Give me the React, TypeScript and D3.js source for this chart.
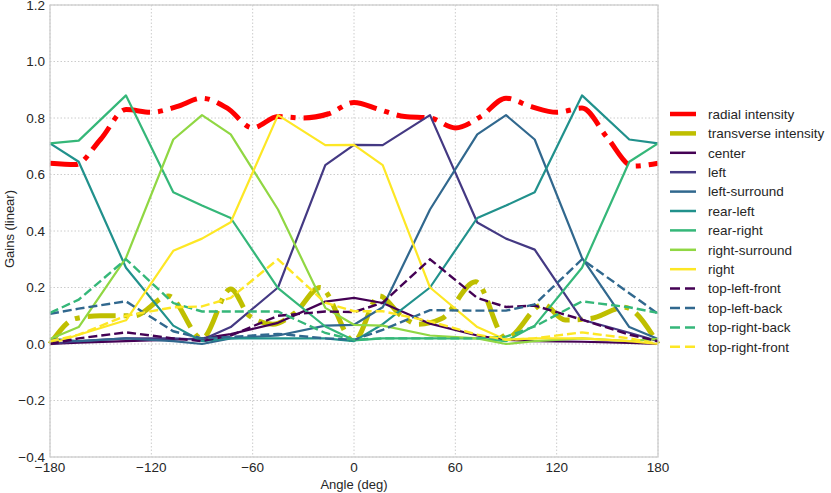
import * as d3 from "d3";

// sampled speaker angles (deg)
const speakerAngles = [-180, -163, -135, -107, -90, -73, -45, -17, 0, 17, 45, 73, 90, 107, 135, 163, 180];

const center = [0.0, 0.005, 0.01, 0.015, 0.02, 0.035, 0.075, 0.15, 0.163, 0.145, 0.072, 0.03, 0.015, 0.01, 0.008, 0.004, 0.0];
const left = [0.0, 0.01, 0.02, 0.02, 0.015, 0.06, 0.2, 0.633, 0.705, 0.704, 0.81, 0.43, 0.373, 0.334, 0.086, 0.04, 0.01];
const leftSurround = [0.018, 0.01, 0.02, 0.01, 0.0, 0.02, 0.03, 0.065, 0.068, 0.13, 0.476, 0.742, 0.81, 0.724, 0.305, 0.06, 0.018];
const rearLeft = [0.71, 0.645, 0.27, 0.065, 0.01, 0.02, 0.02, 0.02, 0.01, 0.07, 0.2, 0.446, 0.49, 0.537, 0.88, 0.724, 0.71];
const rearRight = [0.71, 0.72, 0.88, 0.537, 0.49, 0.446, 0.198, 0.062, 0.013, 0.02, 0.02, 0.02, 0.01, 0.065, 0.27, 0.645, 0.71];
const rightSurround = [0.018, 0.06, 0.305, 0.724, 0.81, 0.742, 0.476, 0.128, 0.068, 0.065, 0.03, 0.02, 0.0, 0.01, 0.02, 0.01, 0.018];
const right = [0.0, 0.033, 0.084, 0.33, 0.373, 0.431, 0.81, 0.704, 0.705, 0.633, 0.2, 0.06, 0.015, 0.02, 0.02, 0.01, 0.0];

const topLeftFront = [0.0, 0.02, 0.041, 0.02, 0.01, 0.03, 0.1, 0.115, 0.113, 0.146, 0.3, 0.163, 0.131, 0.136, 0.086, 0.033, 0.01];
const topLeftBack = [0.107, 0.125, 0.151, 0.045, 0.02, 0.025, 0.036, 0.02, 0.015, 0.05, 0.12, 0.118, 0.118, 0.14, 0.3, 0.18, 0.107];
const topRightBack = [0.11, 0.157, 0.3, 0.145, 0.115, 0.115, 0.115, 0.039, 0.015, 0.02, 0.02, 0.02, 0.026, 0.062, 0.151, 0.13, 0.11];
const topRightFront = [0.01, 0.033, 0.1, 0.13, 0.133, 0.163, 0.3, 0.146, 0.116, 0.116, 0.08, 0.033, 0.015, 0.02, 0.041, 0.02, 0.0];

const radialAngles = [-180, -165, -150, -135, -120, -105, -90, -75, -60, -45, -30, -15, 0, 15, 30, 45, 60, 75, 90, 105, 120, 135, 150, 165, 180];
const radial = [0.64, 0.635, 0.725, 0.83, 0.82, 0.84, 0.87, 0.835, 0.765, 0.805, 0.8, 0.815, 0.855, 0.83, 0.805, 0.8, 0.765, 0.805, 0.87, 0.84, 0.82, 0.835, 0.73, 0.63, 0.64];

const transAngles = [-180, -165, -150, -130, -110, -90, -73, -62, -48, -35, -20, 0, 15, 28, 38, 52, 72, 90, 112, 125, 140, 160, 180];
const transverse = [0.0, 0.09, 0.1, 0.1, 0.17, 0.02, 0.195, 0.1, 0.07, 0.11, 0.2, 0.01, 0.17, 0.1, 0.07, 0.09, 0.22, 0.02, 0.14, 0.085, 0.09, 0.13, 0.0];

const solidNames = ["center", "left", "left-surround", "rear-left", "rear-right", "right-surround", "right"];
const solidSeries = [center, left, leftSurround, rearLeft, rearRight, rightSurround, right];
const dashedNames = ["top-left-front", "top-left-back", "top-right-back", "top-right-front"];
const dashedSeries = [topLeftFront, topLeftBack, topRightBack, topRightFront];

const xTicks = [-180, -120, -60, 0, 60, 120, 180];
const yTicks = [-0.4, -0.2, 0.0, 0.2, 0.4, 0.6, 0.8, 1.0, 1.2];

const W = 831;
const H = 493;
const font = "'Liberation Sans', Arial, sans-serif";

export default function App() {
  const x = d3.scaleLinear().domain([-180, 180]).range([50, 658]);
  const y = d3.scaleLinear().domain([-0.4, 1.2]).range([457, 5]);

  const polyline = d3
    .line<[number, number]>()
    .x((d) => x(d[0]))
    .y((d) => y(d[1]));
  const smooth = d3
    .line<[number, number]>()
    .x((d) => x(d[0]))
    .y((d) => y(d[1]))
    .curve(d3.curveMonotoneX);

  const zip = (a: number[], b: number[]) => a.map((v, i) => [v, b[i]] as [number, number]);

  const solidColor = (i: number) => d3.interpolateViridis(i / (solidNames.length - 1));
  const dashedColor = (i: number) => d3.interpolateViridis(i / (dashedNames.length - 1));
  const fmt = (v: number) => d3.format(".1f")(v).replace("-", "\u2212");

  const legend = [
    { name: "radial intensity", color: "red", width: 4.5, dash: "" },
    { name: "transverse intensity", color: "#bfbf00", width: 4.5, dash: "" },
    ...solidNames.map((n, i) => ({ name: n, color: solidColor(i), width: 2.5, dash: "" })),
    ...dashedNames.map((n, i) => ({ name: n, color: dashedColor(i), width: 2.5, dash: "10,5" })),
  ];

  return (
    <svg
      width={W}
      height={H}
      style={{ position: "absolute", left: 0, top: 0, background: "#fff" }}
      fontFamily={font}
    >
      {/* grid */}
      <g stroke="#cccccc" strokeWidth={1} strokeDasharray="1.5,2">
        {xTicks.map((t) => (
          <line key={"gx" + t} x1={x(t)} x2={x(t)} y1={y(1.2)} y2={y(-0.4)} />
        ))}
        {yTicks.map((t) => (
          <line key={"gy" + t} x1={x(-180)} x2={x(180)} y1={y(t)} y2={y(t)} />
        ))}
      </g>

      {/* lines */}
      <path
        d={smooth(zip(radialAngles, radial)) || ""}
        fill="none"
        stroke="red"
        strokeWidth={5}
        strokeDasharray="28,8,5,8"
      />
      <path
        d={smooth(zip(transAngles, transverse)) || ""}
        fill="none"
        stroke="#bfbf00"
        strokeWidth={5}
        strokeDasharray="28,8,5,8"
      />
      {solidSeries.map((s, i) => (
        <path
          key={solidNames[i]}
          d={polyline(zip(speakerAngles, s)) || ""}
          fill="none"
          stroke={solidColor(i)}
          strokeWidth={2.2}
          strokeLinejoin="round"
        />
      ))}
      {dashedSeries.map((s, i) => (
        <path
          key={dashedNames[i]}
          d={polyline(zip(speakerAngles, s)) || ""}
          fill="none"
          stroke={dashedColor(i)}
          strokeWidth={2.4}
          strokeDasharray="9,4"
        />
      ))}

      {/* frame */}
      <rect
        x={x(-180)}
        y={y(1.2)}
        width={x(180) - x(-180)}
        height={y(-0.4) - y(1.2)}
        fill="none"
        stroke="#cccccc"
        strokeWidth={1.25}
      />

      {/* ticks */}
      <g fontSize={13.5} fill="#262626">
        {xTicks.map((t) => (
          <text key={"tx" + t} x={x(t)} y={472} textAnchor="middle">
            {String(t).replace("-", "\u2212")}
          </text>
        ))}
        {yTicks.map((t) => (
          <text key={"ty" + t} x={45} y={y(t) + 4.8} textAnchor="end">
            {fmt(t)}
          </text>
        ))}
      </g>

      <text x={354} y={489} textAnchor="middle" fontSize={13} fill="#262626">
        Angle (deg)
      </text>
      <text transform="translate(14,229) rotate(-90)" textAnchor="middle" fontSize={13} fill="#262626">
        Gains (linear)
      </text>

      {/* legend */}
      <g>
        {legend.map((e, i) => {
          const cy = 114 + i * 19.4;
          return (
            <g key={e.name}>
              <line
                x1={670}
                x2={696}
                y1={cy}
                y2={cy}
                stroke={e.color}
                strokeWidth={e.width}
                strokeDasharray={e.dash || undefined}
              />
              <text x={708} y={cy + 4.8} fontSize={13.5} fill="#262626">
                {e.name}
              </text>
            </g>
          );
        })}
      </g>
    </svg>
  );
}
